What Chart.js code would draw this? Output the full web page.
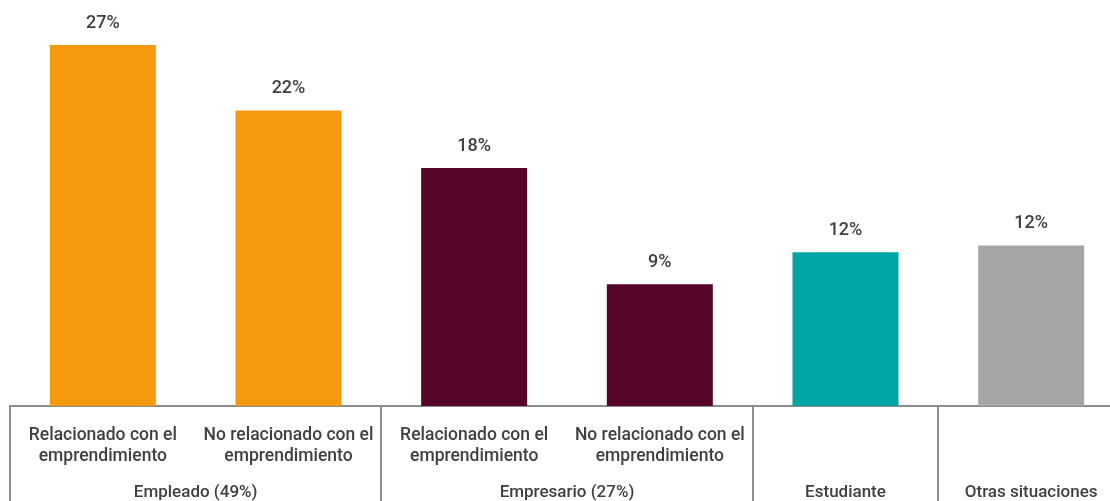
<!DOCTYPE html>
<html>
<head>
<meta charset="utf-8">
<script src="https://cdn.jsdelivr.net/npm/chart.js@4.4.0/dist/chart.umd.min.js"></script>
<style>
    html, body { margin: 0; padding: 0; background: #fff; overflow: hidden; }
    #wrap { width: 1124px; height: 501px; position: relative; }
</style>
</head>
<body>
<div id="wrap"><canvas id="myChart"></canvas></div>
<script>
// DATOS DEL GRAFICO
const categorias = [
    ['Relacionado con el', 'emprendimiento'],
    ['No relacionado con el', 'emprendimiento'],
    ['Relacionado con el', 'emprendimiento'],
    ['No relacionado con el', 'emprendimiento'],
    '',
    ''
];
const valores = [27, 22.1, 17.8, 9.1, 11.5, 12.0];
const grupos = ['Empleado (49%)', 'Empresario (27%)', 'Estudiante', 'Otras situaciones'];
const grupoTamano = [2, 2, 1, 1];

const colores = ['#F5990F', '#F5990F', '#58052A', '#58052A', '#00A5A5', '#A6A6A6'];
const textColor = '#404040';
const lineColor = '#8c8c8c';

// ETIQUETAS DE VALOR Y GRUPOS
const extras = {
    id: 'extras',
    afterDatasetsDraw(chart) {
        const ctx = chart.ctx;
        const meta = chart.getDatasetMeta(0);
        ctx.save();
        ctx.fillStyle = textColor;
        ctx.font = '500 18px Roboto, sans-serif';
        ctx.textAlign = 'center';
        ctx.textBaseline = 'middle';
        meta.data.forEach((bar, i) => {
            ctx.fillText(Math.round(valores[i]) + '%', bar.x, bar.y - 22);
        });
        ctx.restore();
    },
    afterDraw(chart) {
        const ctx = chart.ctx;
        const x = chart.scales.x;
        const half = (x.getPixelForValue(1) - x.getPixelForValue(0)) / 2;
        const yTop = chart.chartArea.bottom;
        ctx.save();
        ctx.strokeStyle = lineColor;
        ctx.lineWidth = 2;
        let idx = 0;
        const bounds = [0];
        grupoTamano.forEach(n => { idx += n; bounds.push(idx); });
        bounds.forEach(b => {
            const px = Math.round(x.getPixelForValue(b) - half);
            ctx.beginPath();
            ctx.moveTo(px, yTop);
            ctx.lineTo(px, chart.height);
            ctx.stroke();
        });
        ctx.fillStyle = textColor;
        ctx.font = '500 17px Roboto, sans-serif';
        ctx.textAlign = 'center';
        ctx.textBaseline = 'middle';
        grupos.forEach((g, i) => {
            const a = x.getPixelForValue(bounds[i]) - half;
            const b = x.getPixelForValue(bounds[i + 1]) - half;
            ctx.fillText(g, (a + b) / 2, 493);
        });
        ctx.restore();
    }
};

const ctx = document.getElementById('myChart').getContext('2d');
Chart.defaults.font.family = "Roboto, sans-serif";

const myChart = new Chart(ctx, {
    type: 'bar',
    data: {
        labels: categorias,
        datasets: [{
            data: valores,
            backgroundColor: colores,
            borderWidth: 0,
            categoryPercentage: 1,
            barPercentage: 0.571
        }]
    },
    options: {
        responsive: true,
        maintainAspectRatio: false,
        animation: false,
        layout: { padding: { top: 5, left: 10, right: 0, bottom: 0 } },
        plugins: {
            legend: { display: false },
            tooltip: { enabled: false }
        },
        scales: {
            x: {
                afterFit(scale) { scale.height = 95; },
                grid: { display: false, drawTicks: false },
                border: { display: true, color: lineColor, width: 2 },
                ticks: {
                    color: textColor,
                    font: { size: 17.5, weight: 500, lineHeight: 1.22 },
                    padding: 19,
                    maxRotation: 0,
                    autoSkip: false
                }
            },
            y: {
                display: false,
                min: 0,
                max: 30
            }
        }
    },
    plugins: [extras]
});
</script>
</body>
</html>
